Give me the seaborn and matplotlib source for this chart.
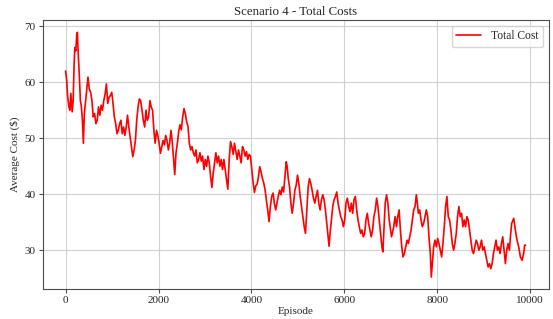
import matplotlib
matplotlib.use("Agg")
import matplotlib.pyplot as plt
import seaborn as sns

# Moving-average total cost per episode
ep_a = [0, 21, 43, 71, 92, 113, 142, 163, 184, 199, 220, 241, 255, 269, 291, 319, 340, 362, 383, 404,
        425, 454, 482, 510, 539, 567, 595, 624, 652, 681, 709, 737, 766, 794, 822, 851, 879, 907, 936, 964,
        993, 1021, 1049, 1078, 1106, 1134, 1163, 1191, 1220, 1248, 1276, 1305, 1333, 1361, 1390, 1418, 1446,
        1475, 1503, 1531, 1560, 1588, 1616, 1645, 1673, 1702, 1730, 1758, 1787, 1815, 1843, 1872, 1900, 1928,
        1957, 1985, 2013, 2042, 2070, 2098, 2127, 2155, 2183, 2212, 2240, 2269]
cost_a = [62, 60.6, 57.6, 55.6, 55, 58, 54.7, 56.7, 63.3, 66.2, 65.6, 68.6, 68.9, 65.6, 62, 56.7, 55.6, 53.2, 49.1, 54.4,
          56.2, 58.5, 60.9, 58.8, 58.2, 56.7, 53.8, 54.4, 52.6, 53.2, 55.6, 54.1, 55.9, 55, 56.7, 57.9, 59.7, 56.2, 57.3, 57.6,
          58.2, 56.2, 53.8, 52.6, 50.8, 51.4, 52.6, 53.2, 50.8, 52, 50.5, 52, 54.1, 52, 50.2, 48.5, 46.7, 47.9, 49.6, 53.2,
          55.6, 57, 56.7, 55, 53.2, 52, 55, 53.2, 53.8, 56.7, 55.6, 55, 51.4, 49.1, 51.4, 50.5, 49.1, 47.3, 48.5, 49.6,
          48.8, 50.5, 49.6, 47.9, 49.1, 51.4]

ep_b = [2291, 2320, 2349, 2377, 2406, 2434, 2463, 2491, 2520, 2549, 2577, 2606, 2634, 2663, 2692, 2720, 2749, 2777,
        2806, 2835, 2863, 2892, 2920, 2949, 2978, 3006, 3035, 3063, 3092, 3121, 3149, 3178, 3206, 3235, 3264, 3292,
        3321, 3349, 3378, 3407, 3435, 3464, 3492, 3521, 3550, 3578, 3607, 3635, 3664, 3693, 3721, 3750, 3778, 3807,
        3836, 3864, 3893, 3921, 3950, 3979, 4007, 4036, 4064, 4093, 4122,
        4150, 4179, 4207, 4236, 4265, 4293, 4322, 4350, 4379, 4407, 4436, 4465, 4493, 4522]
cost_b = [49.7, 46.8, 43.5, 47.4, 49.1, 51.2, 52.4, 51.5, 53.8, 55.3, 54.4, 52.9, 52.1, 49.1, 47.9, 48.5, 47.4, 46.8,
          47.9, 45.6, 46.2, 47.4, 45.9, 46.8, 44.4, 46.2, 45, 46.8, 45.6, 43.2, 41.2, 43.8, 45.6, 47.4, 45.6, 46.8,
          45, 46.2, 44.4, 46.2, 44.4, 42.6, 40.9, 46.2, 49.4, 48.5, 47.1, 49.1, 47.6, 46.2, 47.9, 46.8, 45.6, 48.5,
          47.9, 46.8, 47.6, 46.2, 47.1, 46.8, 44.4, 42.1, 40.3, 41.5, 41.8,
          43.1, 44.9, 44, 42.8, 42, 40.8, 39, 37.2, 35.1, 37.8, 39.6, 40.2, 38.4, 37.2]

ep_c = [4577, 4606, 4635, 4663, 4692, 4720, 4749, 4770, 4792, 4820, 4849, 4877, 4906, 4935, 4963, 4992, 5020, 5049,
        5078, 5106, 5135, 5163, 5192, 5221, 5249, 5278, 5306, 5335, 5364, 5392, 5421, 5449, 5478, 5507, 5535, 5564,
        5592, 5621, 5650, 5671, 5692, 5721, 5750, 5778, 5807, 5836, 5864, 5893, 5921, 5950, 5979, 6007, 6036, 6064,
        6093, 6122, 6150, 6179, 6207, 6236, 6265, 6293, 6322, 6350, 6379, 6408, 6436, 6465, 6493, 6522, 6551, 6579,
        6608, 6636, 6665, 6694, 6722, 6751, 6779, 6808, 6829, 6851, 6879, 6908, 6937, 6965, 6994, 7015]
cost_c = [39.6, 40.7, 39.9, 41.3, 40.4, 43.1, 45.8, 44.9, 42.8, 41.3, 38.4, 36.6, 38.4, 40.7, 41.6, 43.4, 41.9, 39.6,
          37.8, 36, 34.2, 33, 37.2, 41.3, 42.8, 41.9, 40.7, 39.3, 38.4, 39.6, 40.7, 38.4, 37.2, 39, 39.9, 39,
          37.2, 34.8, 32.4, 30.7, 33, 35.4, 37.8, 39, 39.6, 40.4, 38.4, 37.2, 36, 35.4, 34.2, 35.4, 38.4, 39.3,
          37.8, 36.9, 38.4, 36.6, 39, 39.6, 37.2, 35.4, 34.2, 33, 33.6, 32.4, 33, 35.4, 36.6, 34.8, 33.6, 32.4,
          33.6, 36, 37.2, 39.3, 37.8, 35.4, 33, 30.6, 29.7, 33.6, 38.4, 39.9, 38.4, 35.4, 33.6, 32.4]

ep_d = [7063, 7092, 7120, 7149, 7178, 7206, 7235, 7263, 7292, 7321, 7349, 7378, 7406, 7435, 7464, 7492, 7521, 7549,
        7571, 7592, 7621, 7650, 7678, 7707, 7735, 7764, 7793, 7821, 7850, 7871, 7893, 7921, 7950, 7979, 8007, 8036,
        8064, 8093, 8122, 8150, 8179, 8207, 8236, 8265, 8293, 8322, 8350, 8379, 8408, 8436, 8465, 8493, 8522, 8551,
        8579, 8608, 8636, 8665, 8694, 8722, 8751, 8779, 8808, 8837, 8865, 8894, 8922, 8951, 8980, 9008, 9037, 9065,
        9094, 9123, 9151, 9180, 9208, 9237, 9265, 9294, 9323, 9351, 9380, 9408, 9437, 9466, 9494, 9523, 9551, 9580,
        9601, 9645, 9680, 9716, 9752, 9788, 9823, 9859, 9880, 9900]
cost_d = [34.2, 36, 34.2, 36, 37.2, 33.6, 30.6, 28.8, 29.4, 30.6, 31.8, 31.2, 32.4, 33.6, 35.4, 37.2, 37.8, 39.9,
          38.4, 36.6, 37.2, 35.4, 34.2, 34.8, 36, 37.2, 36, 32.4, 29.4, 25.2, 27.6, 30.6, 31.8, 30.6, 32.1, 31.2,
          30, 28.8, 31.2, 34.2, 37.8, 39.6, 36, 35.4, 33.6, 31.2, 30, 31.2, 33, 36, 37.8, 36, 36.6, 34.2,
          35.4, 34.2, 36, 35.4, 33.6, 31.8, 30, 29.4, 30.6, 31.8, 31.2, 30, 30.6, 31.8, 30, 30.6, 29.4, 28.2,
          27, 27.6, 26.7, 27.6, 29.4, 30.6, 31.8, 30, 30.6, 29.4, 31.2, 32.4, 30, 27.6, 30, 31.2, 30, 33,
          34.8, 35.7, 33.6, 31.8, 30.6, 28.8, 28.2, 29.4, 30.9, 30.9]

episodes = ep_a + ep_b + ep_c + ep_d
costs = cost_a + cost_b + cost_c + cost_d

sns.set_style("whitegrid", {
    "axes.edgecolor": "0.3",
    "grid.color": "0.82",
    "xtick.bottom": True,
    "ytick.left": True,
})
plt.rcParams["font.family"] = ["Liberation Serif", "DejaVu Serif"]
plt.rcParams["xtick.major.size"] = 3
plt.rcParams["ytick.major.size"] = 3

fig, ax = plt.subplots(figsize=(5.53, 3.19), dpi=100)
fig.subplots_adjust(left=0.077, right=0.992, top=0.937, bottom=0.093)

sns.lineplot(x=episodes, y=costs, color="red", linewidth=1.2, label="Total Cost", ax=ax)

ax.set_title("Scenario 4 - Total Costs", fontsize=9.3, pad=4)
ax.set_xlabel("Episode", fontsize=8, labelpad=1)
ax.set_ylabel(r"Average Cost (\$)", fontsize=8, labelpad=3)
ax.tick_params(axis="both", labelsize=8, pad=2, color="0.3", width=0.8)
ax.legend(loc="upper right", fontsize=8.3, frameon=True, handlelength=2.2)

plt.savefig("out.png", dpi=100)
